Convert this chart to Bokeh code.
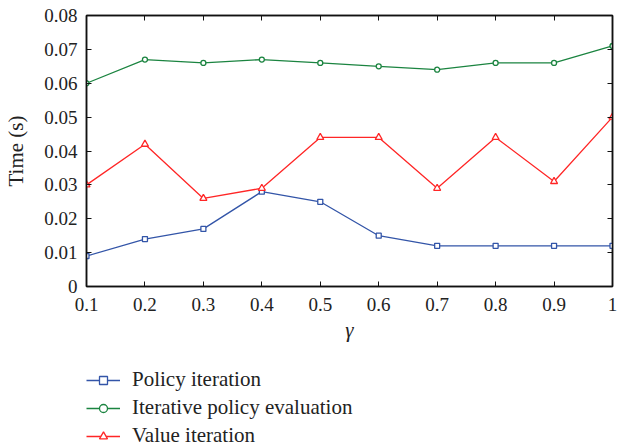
from bokeh.plotting import figure
from bokeh.layouts import column
from bokeh.models import (Range1d, FixedTicker, LinearAxis, Legend, LegendItem,
                          CustomJSTickFormatter)
from bokeh.embed import file_html
from bokeh.resources import INLINE

# ---- data ----
gamma = [0.1, 0.2, 0.3, 0.4, 0.5, 0.6, 0.7, 0.8, 0.9, 1.0]
policy_iteration = [0.009, 0.014, 0.017, 0.028, 0.025, 0.015, 0.012, 0.012, 0.012, 0.012]
iterative_policy_eval = [0.060, 0.067, 0.066, 0.067, 0.066, 0.065, 0.064, 0.066, 0.066, 0.071]
value_iteration = [0.030, 0.042, 0.026, 0.029, 0.044, 0.044, 0.029, 0.044, 0.031, 0.050]

series_names = ["Policy iteration", "Iterative policy evaluation", "Value iteration"]

x_ticks = [0.1, 0.2, 0.3, 0.4, 0.5, 0.6, 0.7, 0.8, 0.9, 1.0]
x_tick_labels = ["0.1", "0.2", "0.3", "0.4", "0.5", "0.6", "0.7", "0.8", "0.9", "1"]
y_ticks = [0, 0.01, 0.02, 0.03, 0.04, 0.05, 0.06, 0.07, 0.08]
y_tick_labels = ["0", "0.01", "0.02", "0.03", "0.04", "0.05", "0.06", "0.07", "0.08"]

FONT = "Liberation Serif"

p = figure(width=617, height=360, output_backend="svg", toolbar_location=None,
           x_range=Range1d(0.1, 1.0), y_range=Range1d(0, 0.08),
           min_border_left=86, min_border_right=5, min_border_top=15,
           min_border_bottom=74)

p.xgrid.visible = False
p.ygrid.visible = False
p.outline_line_color = "#111111"
p.outline_line_width = 1.5
p.background_fill_color = "white"
p.border_fill_color = "white"

# main axes
xa = p.xaxis[0]
xa.ticker = FixedTicker(ticks=x_ticks)
xa.major_label_overrides = dict(zip(x_ticks, x_tick_labels))
ya = p.yaxis[0]
ya.ticker = FixedTicker(ticks=y_ticks)
ya.major_label_overrides = dict(zip(y_ticks, y_tick_labels))

for ax in (xa, ya):
    ax.major_tick_in = 5
    ax.major_tick_out = 0
    ax.minor_tick_in = 0
    ax.minor_tick_out = 0
    ax.axis_line_color = "#111111"
    ax.axis_line_width = 1.5
    ax.major_tick_line_color = "#111111"
    ax.major_tick_line_width = 1
    ax.major_label_text_font = FONT
    ax.major_label_text_font_size = "19px"
    ax.major_label_text_color = "#222222"
    ax.axis_label_text_font = FONT
    ax.axis_label_text_font_size = "21px"
    ax.axis_label_text_color = "#222222"

xa.axis_label = "γ"
xa.axis_label_text_font_style = "italic"
xa.major_label_standoff = 11
xa.axis_label_standoff = 4
ya.axis_label = "Time (s)"
ya.axis_label_text_font_style = "normal"
ya.major_label_standoff = 9
ya.axis_label_standoff = 13

# mirrored ticks on top and right
blank = CustomJSTickFormatter(code="return ''")
top = LinearAxis(ticker=FixedTicker(ticks=x_ticks), formatter=blank)
right = LinearAxis(ticker=FixedTicker(ticks=y_ticks), formatter=blank)
for ax in (top, right):
    ax.major_tick_in = 5
    ax.major_tick_out = 0
    ax.minor_tick_in = 0
    ax.minor_tick_out = 0
    ax.major_label_standoff = 0
    ax.major_label_text_font_size = "1px"
    ax.axis_line_color = "#111111"
    ax.axis_line_width = 1.5
    ax.major_tick_line_color = "#111111"
p.add_layout(top, "above")
p.add_layout(right, "right")

colors = ["#3355a8", "#1b8440", "#ff2626"]
data = [policy_iteration, iterative_policy_eval, value_iteration]
markers = ["square", "circle", "triangle"]
sizes = [5, 5, 7]

for ys, c, m, s in zip(data, colors, markers, sizes):
    p.line(gamma, ys, line_color=c, line_width=1.3)
    p.scatter(gamma, ys, marker=m, size=s, line_color=c, fill_color="white",
              line_width=1.3)

# legend panel below the chart (series drawn out of its visible range,
# only their legend entries show)
lg = figure(width=617, height=88, output_backend="svg", toolbar_location=None,
            x_range=Range1d(0.1, 1.0), y_range=Range1d(1, 2),
            x_axis_type=None, y_axis_type=None,
            min_border_left=0, min_border_right=0, min_border_top=0,
            min_border_bottom=0)
lg.xgrid.visible = False
lg.ygrid.visible = False
lg.outline_line_color = None
lg.background_fill_color = "white"
lg.border_fill_color = "white"

items = []
for name, ys, c, m, s in zip(series_names, data, colors, markers, sizes):
    ln = lg.line(gamma, ys, line_color=c, line_width=1.3)
    sc = lg.scatter(gamma, ys, marker=m, size=s, line_color=c, fill_color="white",
                    line_width=1.3)
    items.append(LegendItem(label=name, renderers=[ln, sc]))

legend = Legend(items=items, location="bottom_left", orientation="vertical",
                padding=0, margin=0, spacing=3, label_height=20, glyph_height=20,
                glyph_width=34, label_standoff=12,
                label_text_font=FONT, label_text_font_size="21px",
                label_text_color="#222222",
                border_line_color=None, background_fill_alpha=0)
lg.add_layout(legend, "center")

layout = column(p, lg, spacing=0)
open("out.html", "w").write(file_html(layout, INLINE))
